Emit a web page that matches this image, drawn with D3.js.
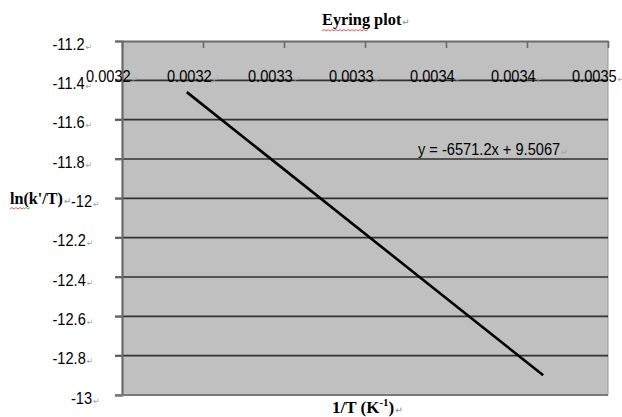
<!DOCTYPE html>
<html>
<head>
<meta charset="utf-8">
<script src="https://cdn.jsdelivr.net/npm/d3@7"></script>
<style>
  html, body { margin: 0; padding: 0; background: #ffffff; }
  svg { display: block; }
</style>
</head>
<body>
<svg id="chart" width="622" height="417"></svg>
<script>
// ---- data ----
const xTickValues = [0.00315, 0.00320, 0.00325, 0.00330, 0.00335, 0.00340, 0.00345];
const xTickLabels = ["0.0032", "0.0032", "0.0033", "0.0033", "0.0034", "0.0034", "0.0035"];
const yTickValues = [-11.2, -11.4, -11.6, -11.8, -12.0, -12.2, -12.4, -12.6, -12.8, -13.0];
const yTickLabels = ["-11.2", "-11.4", "-11.6", "-11.8", "-12", "-12.2", "-12.4", "-12.6", "-12.8", "-13"];
const lineX = [0.00319, 0.00341];
const lineY = [-11.46, -12.90];
const titleText = "Eyring plot";
const yTitle = "ln(k'/T)";
const xTitleMain = "1/T (K";
const xTitleSup = "-1";
const equationText = "y = -6571.2x + 9.5067";

// ---- layout ----
const svg = d3.select("#chart");
const L = 122, R = 608, T = 41, B = 395;
const x = d3.scaleLinear().domain([0.00315, 0.00345]).range([L, R]);
const y = d3.scaleLinear().domain([-13, -11.2]).range([B, T]);
const sans = "'Liberation Sans', Arial, sans-serif";
const serif = "'Liberation Serif', 'Times New Roman', serif";
const markColor = "#a0a0a0";
const sansSize = 17, sansSX = 0.86;

// plot background
svg.append("rect").attr("x", L).attr("y", T).attr("width", R - L).attr("height", B - T)
  .attr("fill", "#c0c0c0");

// right border
svg.append("line").attr("x1", R).attr("x2", R).attr("y1", T).attr("y2", B)
  .attr("stroke", "#9a9a9a").attr("stroke-width", 1);

// horizontal gridlines (inner)
svg.append("g").selectAll("line")
  .data(yTickValues.filter(v => v > -13 && v < -11.2))
  .join("line")
  .attr("x1", L - 7).attr("x2", R)
  .attr("y1", d => y(d)).attr("y2", d => y(d))
  .attr("stroke", "#303030").attr("stroke-width", 1.6);

// y axis (left) with ticks
const yAxis = d3.axisLeft(y).tickValues(yTickValues).tickSize(7).tickFormat("");
const gy = svg.append("g").attr("transform", `translate(${L},0)`).call(yAxis);
gy.select(".domain").attr("stroke", "#6a6a6a").attr("stroke-width", 2.2);
gy.selectAll(".tick line").attr("stroke", "#6a6a6a").attr("stroke-width", 1.8);

// bottom border
svg.append("line").attr("x1", L - 7).attr("x2", R).attr("y1", B).attr("y2", B)
  .attr("stroke", "#7a7a7a").attr("stroke-width", 2);

// x axis at top, ticks pointing into plot
const xAxis = d3.axisTop(x).tickValues(xTickValues).tickSize(-7).tickFormat("").tickSizeOuter(0);
const gx = svg.append("g").attr("transform", `translate(0,${T})`).call(xAxis);
gx.select(".domain").attr("stroke", "#6a6a6a").attr("stroke-width", 2);
gx.selectAll(".tick line").attr("stroke", "#6a6a6a").attr("stroke-width", 1.6);

// regression line
svg.append("path")
  .datum(lineX.map((v, i) => [v, lineY[i]]))
  .attr("d", d3.line().x(d => x(d[0])).y(d => y(d[1])))
  .attr("fill", "none").attr("stroke", "#000").attr("stroke-width", 2.6);

// helper: add a return mark
function addMark(t) {
  t.append("tspan").text("\u21B5").attr("font-family", "'DejaVu Sans', sans-serif")
    .attr("font-size", 9).attr("fill", markColor).attr("dx", 1);
}
function place(sel, px, py, sx) {
  sel.attr("transform", `translate(${px},${py}) scale(${sx},1)`);
}

// x tick labels
svg.append("g").selectAll("text")
  .data(xTickValues)
  .join("text")
  .attr("transform", d => `translate(${x(d) - 10},82) scale(${sansSX},1)`)
  .attr("text-anchor", "middle")
  .attr("font-family", sans).attr("font-size", sansSize).attr("fill", "#000")
  .each(function (d, i) {
    const t = d3.select(this);
    t.append("tspan").text(xTickLabels[i]);
    addMark(t);
  });

// y tick labels
svg.append("g").selectAll("text")
  .data(yTickValues)
  .join("text")
  .attr("transform", (d, i) => `translate(${yTickLabels[i].includes(".") ? 52.5 : 71},${y(d) + 8.5}) scale(${sansSX},1)`)
  .attr("font-family", sans).attr("font-size", sansSize).attr("fill", "#000")
  .each(function (d, i) {
    const t = d3.select(this);
    t.append("tspan").text(yTickLabels[i]);
    addMark(t);
  });

// title
const title = svg.append("text")
  .attr("font-family", serif).attr("font-weight", "bold").attr("font-size", 17).attr("fill", "#000");
place(title, 322, 25, 0.96);
title.append("tspan").text(titleText);
addMark(title);
// spell-check wavy underline
function wavy(x0, x1, yy, color) {
  const p = d3.path();
  p.moveTo(x0, yy);
  let up = true;
  for (let xx = x0 + 2; xx <= x1; xx += 2) { p.lineTo(xx, up ? yy - 1.5 : yy); up = !up; }
  svg.append("path").attr("d", p.toString()).attr("fill", "none")
    .attr("stroke", color).attr("stroke-width", 0.8);
}
wavy(322, 369, 31, "#e03030");

// y axis title
const yt = svg.append("text")
  .attr("font-family", serif).attr("font-weight", "bold").attr("font-size", 17).attr("fill", "#000");
place(yt, 10, 204, 0.95);
yt.append("tspan").text(yTitle);
addMark(yt);
wavy(10, 24, 209, "#e03030");
wavy(24, 30, 209, "#30a030");

// x axis title
const xt = svg.append("text")
  .attr("font-family", serif).attr("font-weight", "bold").attr("font-size", 17).attr("fill", "#000");
place(xt, 332, 413, 1);
xt.append("tspan").text(xTitleMain);
xt.append("tspan").text(xTitleSup).attr("font-size", 11).attr("dy", -7);
xt.append("tspan").text(")").attr("dy", 7);
addMark(xt);

// equation
const eq = svg.append("text")
  .attr("font-family", sans).attr("font-size", sansSize).attr("fill", "#000");
place(eq, 418, 155, sansSX);
eq.append("tspan").text(equationText);
addMark(eq);
</script>
</body>
</html>
